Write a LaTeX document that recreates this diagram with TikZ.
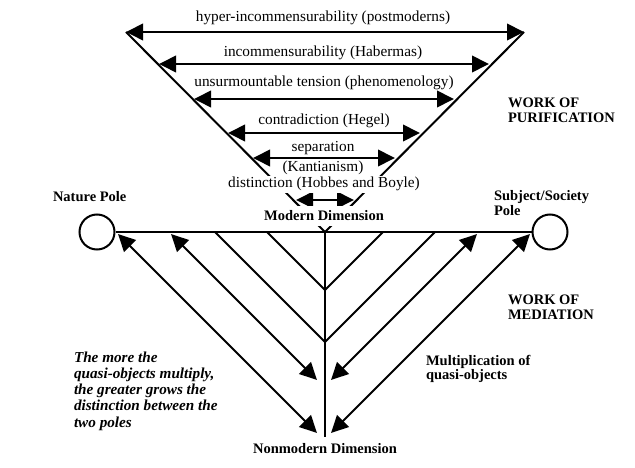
\documentclass[tikz,border=0pt]{standalone}
\usepackage{fontspec}
\setmainfont{Liberation Serif}
\usetikzlibrary{arrows.meta}
\begin{document}
\begin{tikzpicture}[x=1pt,y=-1pt, line width=2pt,
  >={Triangle[length=17pt,width=16.5pt]},
  lbl/.style={font=\fontsize{15.3}{17}\selectfont, anchor=base, inner sep=1.5pt},
  blbl/.style={font=\fontsize{14.5}{15}\selectfont\bfseries, anchor=base west, align=left, inner sep=0pt},
  itlbl/.style={font=\fontsize{15.2}{16.2}\selectfont\bfseries\itshape, anchor=base west, align=left, inner sep=0pt},
  pole/.style={circle, draw, minimum size=35pt, inner sep=0pt},
  dbl/.style={<->}]
\useasboundingbox[fill=white] (0,0) rectangle (635,468);

% work of purification: the V
\coordinate (apex) at (325,232);
\coordinate (vL) at (126,32);
\coordinate (vR) at (524,32);
\draw (vL) -- (apex) -- (vR);

\coordinate (p2l) at (159,64);  \coordinate (p2r) at (489,64);
\coordinate (p3l) at (194,99);  \coordinate (p3r) at (454,99);
\coordinate (p4l) at (228,133); \coordinate (p4r) at (420,133);
\coordinate (p5l) at (253,158); \coordinate (p5r) at (395,158);
\coordinate (p6l) at (296,200); \coordinate (p6r) at (354,200);
\draw[dbl] (vL) -- (vR);
\draw[dbl] (p2l) -- (p2r);
\draw[dbl] (p3l) -- (p3r);
\draw[dbl] (p4l) -- (p4r);
\draw[dbl] (p5l) -- (p5r);
\draw[dbl] (p6l) -- (p6r);

\node[lbl] (t1) at (323,22) {hyper-incommensurability (postmoderns)};
\node[lbl] (t2) at (323,57) {incommensurability (Habermas)};
\node[lbl] (t3) at (324,87) {unsurmountable tension (phenomenology)};
\node[lbl] (t4) at (324,125) {contradiction (Hegel)};
\node[lbl] (t5) at (323,152) {separation};
\node[lbl] (t6) at (323,172) {(Kantianism)};
\node[lbl, fill=white] (t7) at (324,188) {distinction (Hobbes and Boyle)};
\node[blbl, anchor=base, fill=white, inner xsep=3pt, inner ysep=5pt] (md) at (324,221) {Modern Dimension};

% poles and axes
\node[pole] (np) at (97,232) {};
\node[pole] (sp) at (550,232) {};
\draw (np) -- (sp);
\coordinate (bot) at (325,437);
\draw (apex) -- (bot);

% work of mediation
\coordinate (j1) at (325,290);
\coordinate (j2) at (325,342);
\coordinate (h1l) at (267,232); \coordinate (h1r) at (383,232);
\coordinate (h2l) at (215,232); \coordinate (h2r) at (435,232);
\draw (h1l) -- (j1) -- (h1r);
\draw (h2l) -- (j2) -- (h2r);

\coordinate (m1a) at (171,234); \coordinate (m1b) at (317,380);
\coordinate (m2a) at (477,234); \coordinate (m2b) at (331,380);
\coordinate (n1a) at (118,234); \coordinate (n1b) at (317,433);
\coordinate (n2a) at (530,234); \coordinate (n2b) at (331,433);
\draw[dbl] (m1a) -- (m1b);
\draw[dbl] (m2a) -- (m2b);
\draw[dbl] (n1a) -- (n1b);
\draw[dbl] (n2a) -- (n2b);

% labels (base anchor = baseline of the last line)
\node[blbl] (nature) at (52,202) {Nature Pole};
\node[blbl] (subj) at (493,215) {Subject/Society\\Pole};
\node[blbl] (wp) at (507,123) {WORK OF\\PURIFICATION};
\node[blbl] (wm) at (507,319) {WORK OF\\MEDIATION};
\node[blbl, font=\fontsize{14.5}{14}\selectfont\bfseries] (mq) at (425,379) {Multiplication of\\quasi-objects};
\node[itlbl] (quote) at (73,427) {The more the\\quasi-objects multiply,\\the greater grows the\\distinction between the\\two poles};
\node[blbl, anchor=base] (nm) at (325,453) {Nonmodern Dimension};
\end{tikzpicture}
\end{document}
